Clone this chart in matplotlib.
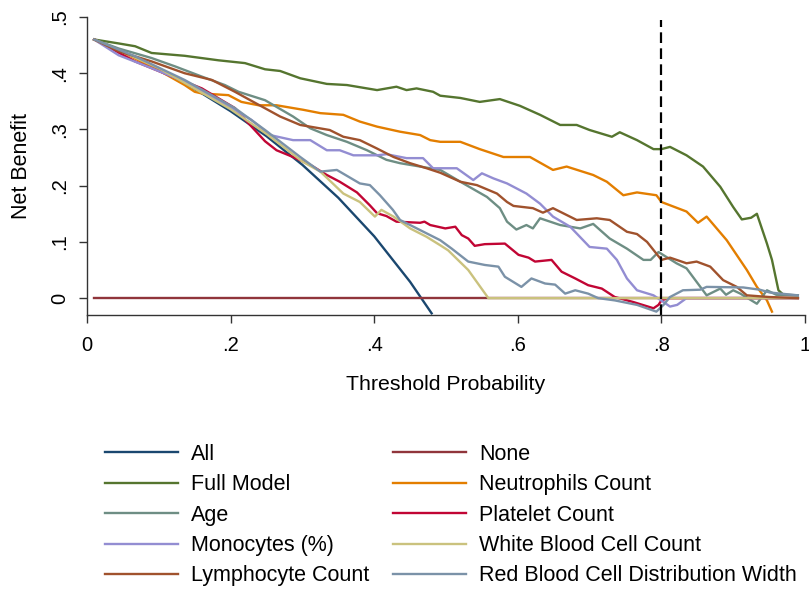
import matplotlib
matplotlib.use("Agg")
import matplotlib.pyplot as plt

plt.rcParams['font.family'] = ['Liberation Sans', 'DejaVu Sans']

# ---------------- data ----------------
all_t = [0.01, 0.05, 0.10, 0.15, 0.20, 0.25, 0.30, 0.35, 0.40, 0.45, 0.48]
all_v = [0.460, 0.438, 0.407, 0.372, 0.3325, 0.288, 0.237, 0.1785, 0.110, 0.029, -0.027]

none_t = [0.01, 0.99]
none_v = [0.0, 0.0]

full_t = [0.01, 0.044, 0.067, 0.09, 0.136, 0.183, 0.22, 0.248, 0.269, 0.297, 0.334, 0.362,
          0.404, 0.431, 0.445, 0.459, 0.482, 0.492, 0.52, 0.547, 0.575, 0.603, 0.631, 0.659,
          0.682, 0.70, 0.731, 0.742, 0.766, 0.789, 0.80, 0.812, 0.835, 0.858, 0.882, 0.90,
          0.912, 0.925, 0.933, 0.947, 0.954, 0.963, 0.97, 0.99]
full_v = [0.460, 0.453, 0.448, 0.436, 0.431, 0.423, 0.418, 0.407, 0.404, 0.391, 0.381, 0.379,
          0.370, 0.376, 0.370, 0.373, 0.367, 0.360, 0.356, 0.349, 0.354, 0.342, 0.326, 0.308,
          0.308, 0.299, 0.287, 0.295, 0.281, 0.265, 0.265, 0.269, 0.254, 0.234, 0.198, 0.162,
          0.140, 0.143, 0.150, 0.097, 0.068, 0.014, 0.006, 0.005]

neut_t = [0.01, 0.05, 0.10, 0.136, 0.15, 0.16, 0.197, 0.215, 0.239, 0.264, 0.301, 0.325,
          0.357, 0.38, 0.404, 0.436, 0.464, 0.478, 0.492, 0.52, 0.547, 0.58, 0.617, 0.649,
          0.668, 0.705, 0.724, 0.747, 0.766, 0.793, 0.80, 0.835, 0.851, 0.863, 0.891, 0.919,
          0.933, 0.947, 0.954]
neut_v = [0.460, 0.437, 0.405, 0.379, 0.367, 0.364, 0.361, 0.349, 0.343, 0.343, 0.335, 0.329,
          0.326, 0.314, 0.305, 0.296, 0.290, 0.281, 0.278, 0.278, 0.265, 0.251, 0.251, 0.228,
          0.234, 0.219, 0.207, 0.183, 0.188, 0.183, 0.171, 0.154, 0.134, 0.145, 0.103, 0.050,
          0.020, -0.004, -0.024]

age_t = [0.01, 0.044, 0.09, 0.123, 0.16, 0.192, 0.211, 0.248, 0.287, 0.311, 0.334, 0.362,
         0.39, 0.417, 0.436, 0.464, 0.492, 0.52, 0.557, 0.575, 0.585, 0.598, 0.612, 0.621,
         0.631, 0.659, 0.687, 0.705, 0.728, 0.752, 0.775, 0.785, 0.796, 0.821, 0.835, 0.863,
         0.882, 0.89, 0.90, 0.91, 0.933, 0.947, 0.96, 0.99]
age_v = [0.460, 0.444, 0.427, 0.412, 0.394, 0.379, 0.367, 0.352, 0.323, 0.302, 0.290, 0.278,
         0.263, 0.246, 0.240, 0.234, 0.228, 0.207, 0.180, 0.160, 0.136, 0.122, 0.130, 0.124,
         0.142, 0.130, 0.124, 0.132, 0.106, 0.088, 0.068, 0.068, 0.082, 0.062, 0.053, 0.005,
         0.017, 0.006, 0.014, 0.008, -0.010, 0.014, 0.006, 0.005]

plt_t = [0.01, 0.067, 0.113, 0.16, 0.206, 0.222, 0.248, 0.264, 0.287, 0.311, 0.334, 0.352,
         0.376, 0.394, 0.404, 0.417, 0.431, 0.464, 0.47, 0.478, 0.499, 0.513, 0.522, 0.531,
         0.54, 0.554, 0.582, 0.601, 0.615, 0.624, 0.647, 0.661, 0.68, 0.698, 0.717, 0.735,
         0.761, 0.789, 0.796, 0.80, 0.81, 0.99]
plt_v = [0.460, 0.421, 0.397, 0.373, 0.338, 0.315, 0.279, 0.263, 0.251, 0.237, 0.219, 0.207,
         0.188, 0.165, 0.151, 0.146, 0.136, 0.134, 0.136, 0.130, 0.124, 0.127, 0.112, 0.106,
         0.093, 0.096, 0.097, 0.077, 0.072, 0.065, 0.068, 0.047, 0.035, 0.023, 0.017, 0.002,
         -0.007, -0.018, -0.012, -0.004, 0.0, 0.0]

mono_t = [0.01, 0.044, 0.09, 0.136, 0.183, 0.229, 0.255, 0.287, 0.311, 0.334, 0.352, 0.371,
          0.404, 0.417, 0.445, 0.468, 0.482, 0.515, 0.538, 0.55, 0.566, 0.585, 0.612, 0.631,
          0.649, 0.673, 0.70, 0.724, 0.738, 0.752, 0.766, 0.789, 0.803, 0.812, 0.822, 0.835, 0.99]
mono_v = [0.460, 0.432, 0.409, 0.385, 0.352, 0.317, 0.290, 0.281, 0.281, 0.263, 0.263, 0.254,
          0.254, 0.256, 0.249, 0.249, 0.231, 0.231, 0.210, 0.222, 0.213, 0.204, 0.186, 0.168,
          0.145, 0.127, 0.091, 0.088, 0.068, 0.035, 0.014, 0.005, -0.007, -0.015, -0.012, 0.0, 0.0]

wbc_t = [0.01, 0.10, 0.20, 0.25, 0.30, 0.325, 0.357, 0.38, 0.401, 0.41, 0.427, 0.45,
         0.473, 0.492, 0.503, 0.531, 0.559, 0.99]
wbc_v = [0.460, 0.409, 0.336, 0.292, 0.243, 0.225, 0.186, 0.171, 0.145, 0.157, 0.145, 0.124,
         0.109, 0.094, 0.085, 0.050, 0.0, 0.0]

lym_t = [0.01, 0.044, 0.09, 0.136, 0.174, 0.206, 0.236, 0.269, 0.297, 0.338, 0.357, 0.38,
         0.404, 0.427, 0.45, 0.473, 0.492, 0.52, 0.543, 0.571, 0.585, 0.594, 0.621, 0.635,
         0.649, 0.682, 0.71, 0.728, 0.752, 0.766, 0.78, 0.80, 0.812, 0.835, 0.849, 0.868,
         0.886, 0.905, 0.919, 0.95, 0.99]
lym_v = [0.460, 0.439, 0.421, 0.400, 0.388, 0.367, 0.346, 0.323, 0.308, 0.299, 0.287, 0.281,
         0.266, 0.251, 0.240, 0.231, 0.223, 0.207, 0.201, 0.186, 0.171, 0.164, 0.160, 0.152,
         0.160, 0.139, 0.142, 0.139, 0.118, 0.114, 0.100, 0.068, 0.072, 0.062, 0.065, 0.056,
         0.032, 0.020, 0.005, 0.002, 0.0]

rbc_t = [0.01, 0.067, 0.136, 0.206, 0.248, 0.297, 0.325, 0.348, 0.38, 0.394, 0.408, 0.426,
         0.436, 0.464, 0.492, 0.508, 0.531, 0.554, 0.573, 0.582, 0.605, 0.619, 0.638, 0.652,
         0.666, 0.68, 0.698, 0.712, 0.735, 0.766, 0.793, 0.803, 0.812, 0.83, 0.854, 0.863,
         0.914, 0.937, 0.951, 0.99]
rbc_v = [0.460, 0.430, 0.388, 0.338, 0.299, 0.251, 0.225, 0.228, 0.204, 0.201, 0.183, 0.157,
         0.139, 0.121, 0.103, 0.088, 0.065, 0.059, 0.056, 0.038, 0.020, 0.035, 0.026, 0.024,
         0.008, 0.014, 0.008, 0.0, -0.004, -0.012, -0.024, -0.012, 0.002, 0.014, 0.015, 0.020,
         0.019, 0.015, 0.010, 0.005]

threshold = 0.8
labels = ["All", "None", "Full Model", "Neutrophils Count", "Age", "Platelet Count",
          "Monocytes (%)", "White Blood Cell Count", "Lymphocyte Count",
          "Red Blood Cell Distribution Width"]
colors = ["#1a476f", "#90353b", "#55752f", "#e37e00", "#6e8e84", "#c10534",
          "#938dd2", "#cac27e", "#a0522d", "#7b92a8"]
series = [(all_t, all_v), (none_t, none_v), (full_t, full_v), (neut_t, neut_v),
          (age_t, age_v), (plt_t, plt_v), (mono_t, mono_v), (wbc_t, wbc_v),
          (lym_t, lym_v), (rbc_t, rbc_v)]

# ---------------- figure ----------------
fig = plt.figure(figsize=(8.09, 5.89), dpi=100)
ax = fig.add_axes([87 / 809, 1 - 315 / 589, (805 - 87) / 809, (315 - 17) / 589])

handles = []
for (t, v), c, lab in zip(series, colors, labels):
    h, = ax.plot(t, v, color=c, lw=1.7, label=lab, solid_joinstyle='round')
    handles.append(h)

ax.vlines(threshold, -0.03, 0.495, colors='black', linestyles=(0, (4.8, 2.4)), lw=1.6)

ax.set_xlim(0, 1)
ax.set_ylim(-0.03, 0.5)
ax.set_xticks([0, 0.2, 0.4, 0.6, 0.8, 1.0])
ax.set_xticklabels(["0", ".2", ".4", ".6", ".8", "1"])
ax.set_yticks([0, 0.1, 0.2, 0.3, 0.4, 0.5])
ax.set_yticklabels(["0", ".1", ".2", ".3", ".4", ".5"], rotation=90, va='center')
for s in ['top', 'right']:
    ax.spines[s].set_visible(False)
for s in ['left', 'bottom']:
    ax.spines[s].set_color('#333333')
    ax.spines[s].set_linewidth(1.0)
ax.tick_params(axis='both', direction='out', length=6, width=1.0, color='#333333',
               labelsize=14.5)
ax.tick_params(axis='x', pad=9)
ax.tick_params(axis='y', pad=7)

ax.set_xlabel("Threshold Probability", fontsize=15.3)
ax.set_ylabel("Net Benefit", fontsize=15.5)
ax.xaxis.set_label_coords(0.5, -0.2)
ax.yaxis.set_label_coords(-0.077, 0.5)

# legend: column-major order for matplotlib
order = [0, 2, 4, 6, 8, 1, 3, 5, 7, 9]
fig.legend([handles[i] for i in order], [labels[i] for i in order],
           loc='upper left', bbox_to_anchor=(105 / 809, 1 - 444 / 589),
           ncol=2, frameon=False, fontsize=15.5, handlelength=3.4, handletextpad=0.6,
           columnspacing=1.1, labelspacing=0.435, borderpad=0, borderaxespad=0)

fig.savefig("out.png", dpi=100)
